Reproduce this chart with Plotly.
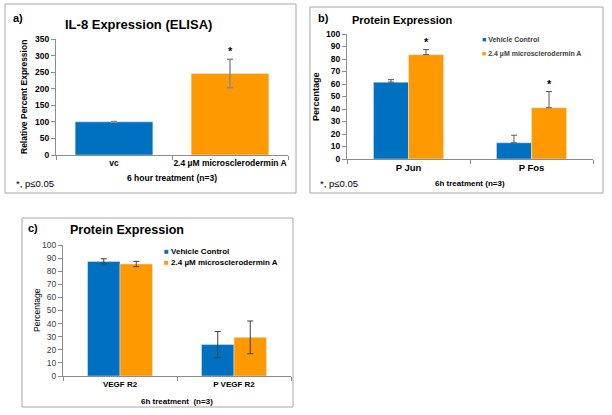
import plotly.graph_objects as go

# ---- data ----
a_categories = ["vc", "2.4 µM microsclerodermin A"]
a_values = [100, 246]
a_errors = [1, 43]

b_categories = ["P Jun", "P Fos"]
b_vehicle = [61.5, 13]
b_vehicle_err = [2, 6]
b_micro = [83.5, 41]
b_micro_err = [4, 13]

c_categories = ["VEGF R2", "P VEGF R2"]
c_vehicle = [87.5, 24]
c_vehicle_err = [2, 10]
c_micro = [85.5, 29.5]
c_micro_err = [2, 12.5]

series_names = ["Vehicle Control", "2.4 µM microsclerodermin A"]
BLUE = "#0070C0"
ORANGE = "#FF9900"

W, H = 612, 415
def px(x): return x / W
def py(y): return 1 - y / H

FONT = "Arial, Liberation Sans, sans-serif"
fig = go.Figure()

# panel a
fig.add_trace(go.Bar(x=a_categories, y=a_values, marker_color=[BLUE, ORANGE], width=0.67,
                     error_y=dict(type="data", array=a_errors, color="#8c8c8c", thickness=1.5, width=3),
                     showlegend=False, xaxis="x", yaxis="y"))
# panel b
fig.add_trace(go.Bar(x=b_categories, y=b_vehicle, name=series_names[0], marker_color=BLUE,
                     error_y=dict(type="data", symmetric=False, array=b_vehicle_err, arrayminus=[0, 0],
                                  color="#595959", thickness=1, width=3),
                     xaxis="x2", yaxis="y2", showlegend=False))
fig.add_trace(go.Bar(x=b_categories, y=b_micro, name=series_names[1], marker_color=ORANGE,
                     error_y=dict(type="data", symmetric=False, array=b_micro_err, arrayminus=[0, 0],
                                  color="#595959", thickness=1, width=3),
                     xaxis="x2", yaxis="y2", showlegend=False))
# panel c
fig.add_trace(go.Bar(x=c_categories, y=c_vehicle, name=series_names[0], marker_color=BLUE,
                     error_y=dict(type="data", array=c_vehicle_err, color="#404040", thickness=1, width=3),
                     xaxis="x3", yaxis="y3", showlegend=False))
fig.add_trace(go.Bar(x=c_categories, y=c_micro, name=series_names[1], marker_color=ORANGE,
                     error_y=dict(type="data", array=c_micro_err, color="#404040", thickness=1, width=3),
                     xaxis="x3", yaxis="y3", showlegend=False))

AX = dict(showline=True, linecolor="#8c8c8c", linewidth=1, ticks="outside", tickcolor="#8c8c8c",
          ticklen=4, showgrid=False, zeroline=False, fixedrange=True)

def xax(x0, x1, anchor, size, color="black", weight="bold"):
    d = dict(AX)
    d.update(domain=[px(x0), px(x1)], anchor=anchor, type="category", tickson="boundaries",
             range=[-0.5, 1.5], tickangle=0, automargin=False,
             tickfont=dict(family=FONT, size=size, color=color, weight=weight))
    return d

def yax(y0, y1, anchor, rng, dtick, size, color="black", weight="bold"):
    d = dict(AX)
    d.update(domain=[py(y1), py(y0)], anchor=anchor, range=rng, dtick=dtick, automargin=False,
             tickfont=dict(family=FONT, size=size, color=color, weight=weight))
    return d

fig.update_layout(
    width=W, height=H, margin=dict(l=0, r=0, t=0, b=0),
    paper_bgcolor="white", plot_bgcolor="white",
    barmode="group", bargap=0.43, bargroupgap=0,
    font=dict(family=FONT, color="black"),
    showlegend=False,
    xaxis=xax(56, 288, "y", 8.5),
    yaxis=yax(39, 155, "x", [0, 350], 50, 8.5),
    xaxis2=xax(347, 593, "y2", 9.5),
    yaxis2=yax(34, 159, "x2", [0, 100], 10, 8.5),
    xaxis3=xax(63, 291, "y3", 8),
    yaxis3=yax(245, 376, "x3", [0, 100], 10, 8.5, color="#404040", weight="normal"),
)

# frames
frame_style = dict(type="rect", xref="paper", yref="paper", line=dict(color="#a6a6a6", width=1),
                   fillcolor="rgba(0,0,0,0)", layer="below")
for (x0, y0, x1, y1) in [(5, 4, 296, 193), (310, 7, 603, 193), (22, 218, 293, 407)]:
    fig.add_shape(x0=px(x0), x1=px(x1), y0=py(y1), y1=py(y0), **frame_style)

def txt(x, y, s, size, weight="bold", xanchor="left", angle=0, color="black"):
    fig.add_annotation(x=px(x), y=py(y), xref="paper", yref="paper", text=s, showarrow=False,
                       xanchor=xanchor, yanchor="middle", textangle=angle,
                       font=dict(family=FONT, size=size, color=color, weight=weight))

# legends (colored square glyph + series name)
def legend_entry(x, y, color, name, size, textcolor):
    txt(x, y, f"<span style='color:{color}'>■</span> {name}", size, color=textcolor)

legend_entry(480, 40, BLUE, series_names[0], 7, "#404040")
legend_entry(480, 54, ORANGE, series_names[1], 7, "#404040")
legend_entry(162, 251, BLUE, series_names[0], 8, "black")
legend_entry(162, 262, ORANGE, series_names[1], 8, "black")

# panel a text
txt(11, 18, "a)", 11)
txt(63, 24, "IL-8 Expression (ELISA)", 13)
txt(24, 97, "Relative Percent Expression", 8.5, xanchor="center", angle=-90)
txt(172, 178, "6 hour treatment (n=3)", 8.5, xanchor="center")
txt(14, 183, "*, p≤0.05", 9.5, weight="normal")
# panel b text
txt(316, 18, "b)", 11)
txt(350, 20, "Protein Expression", 11)
txt(316, 97, "Percentage", 9, xanchor="center", angle=-90)
txt(470, 183, "6h treatment (n=3)", 8, xanchor="center")
txt(318, 183, "*, p≤0.05", 9.5, weight="normal")
# panel c text
txt(26, 228, "c)", 11)
txt(68, 230, "Protein Expression", 12.5)
txt(37, 310, "Percentage", 8.5, xanchor="center", angle=-90, weight="normal")
txt(177, 401, "6h treatment  (n=3)", 8, xanchor="center")

# significance stars (placed above error bars)
fig.add_annotation(x=a_categories[1], y=a_values[1] + a_errors[1], xref="x", yref="y", text="*",
                   showarrow=False, yanchor="bottom", font=dict(family=FONT, size=11, weight="bold"))
for i in range(len(b_categories)):
    fig.add_annotation(x=b_categories[i], y=b_micro[i] + b_micro_err[i], xref="x2", yref="y2", text="*",
                       showarrow=False, yanchor="bottom", xshift=18,
                       font=dict(family=FONT, size=11, weight="bold"))

fig.write_html("out.html", config={"displayModeBar": False},
               post_script="document.body.style.margin='0';")
